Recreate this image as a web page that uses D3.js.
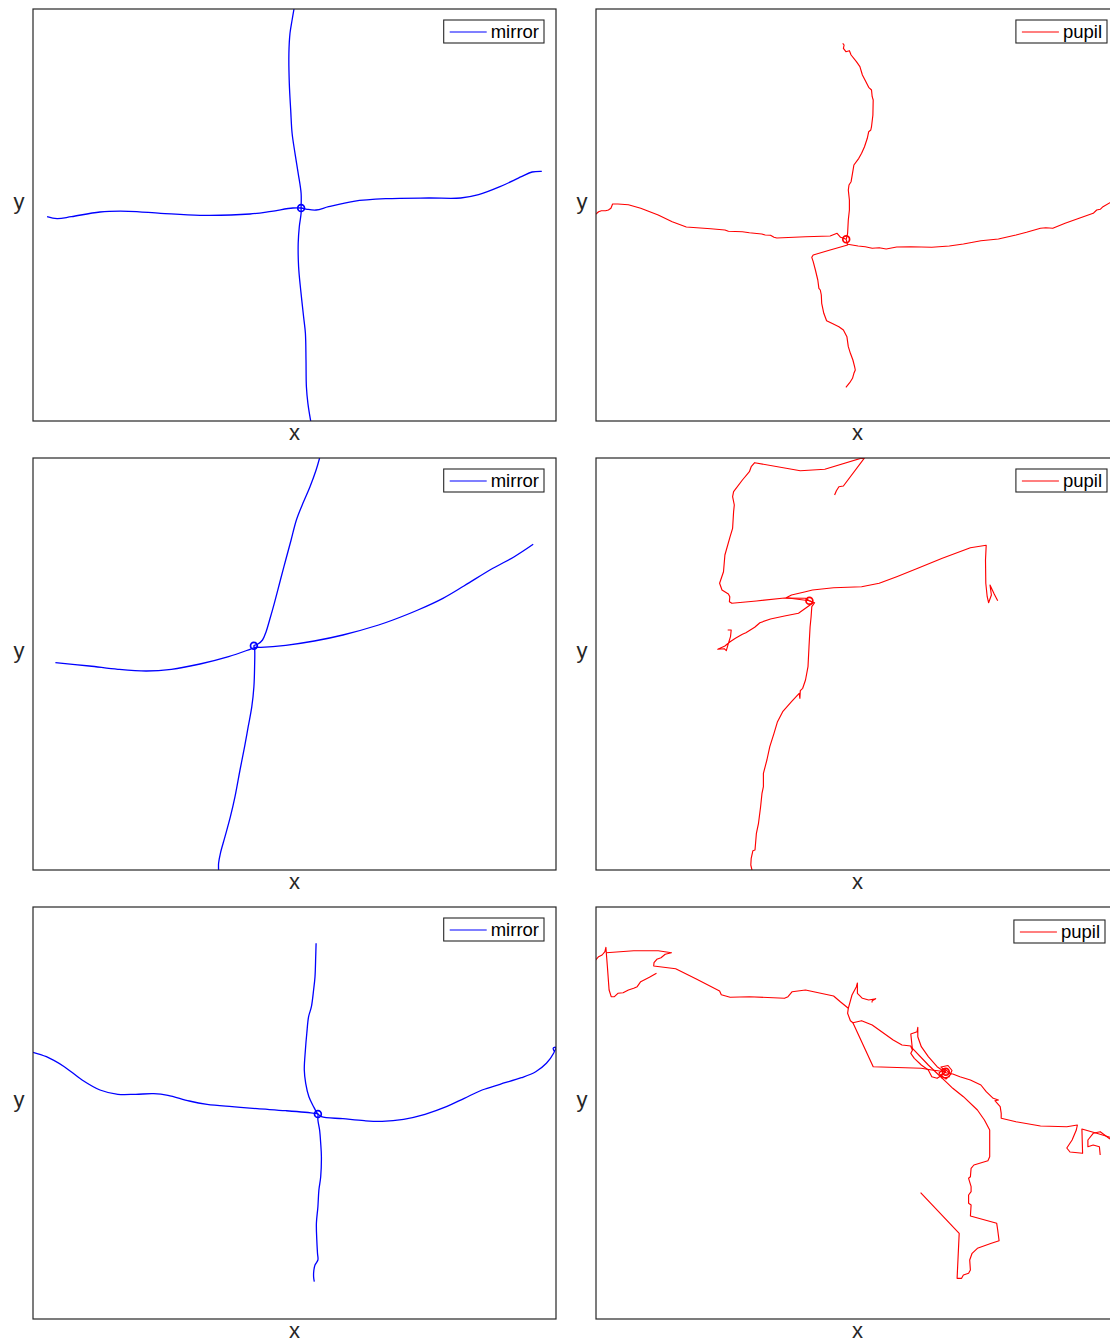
<!DOCTYPE html>
<html>
<head>
<meta charset="utf-8">
<script src="https://cdn.jsdelivr.net/npm/d3@7"></script>
<style>
  html, body { margin: 0; padding: 0; background: #fff; }
  svg { display: block; }
</style>
</head>
<body>
<svg id="chart" width="1110" height="1342"></svg>
<script>
// Gaze traces in screen units (x to the right, y downward), one panel per trial.
// Each trace is a list of arms; every arm is a list of [x, y] samples.

// ---- Trial 1 ----
const mirror1Vertical = [[261,0],[259.1,11],[257,24.3],[255.9,44.3],[256.3,74.3],[257.7,101],[259.1,124.3],[262,144.3],[265.2,164.3],[268.1,184.3],[268.1,199],[268.1,204.3],[266.3,217.7],[265.2,234.3],[265.6,257.7],[267.7,281],[270.6,307.7],[272.4,324.3],[273,351],[273.4,377.7],[274.9,394.3],[277.7,412]];
const mirror1Horizontal = [[14.1,207.7],[24.1,209.7],[38.4,207.7],[67,203],[95.6,202.3],[127.7,204.3],[167,206.3],[217,205],[238.4,202.3],[259.9,199],[268.1,199],[274.1,200.3],[283.1,201],[295.6,197.7],[320.6,192.3],[352.7,189.7],[395.6,189],[427.7,189],[445.6,185.7],[467,177.7],[488.4,167.7],[499.1,163],[508.8,162.3]];
const mirror1Start = [268.1, 199];

const pupil1Up = [[246.7,34.3],[248.1,36],[247.4,39.3],[249.9,42.7],[253.4,41.7],[255.1,46],[260.4,52.7],[263.9,57.7],[266.4,66],[269.9,72.7],[272.7,78.3],[275.5,81],[276.2,87.7],[277.2,91],[276.9,106],[275.5,117.7],[274.8,121],[272.7,122.7],[271.3,129.3],[268.5,137.7],[265.6,144.3],[262.8,149.3],[257.9,156],[256.5,164.3],[255.1,172.7],[253,176],[252.3,181],[253.4,191],[253.4,201],[252.3,211],[251.6,224.3],[250.9,227.7],[250.2,230.3]];
const pupil1Down = [[250.2,230.3],[251.6,236],[234.1,241],[217.2,246],[215.8,248.3],[217.2,252.7],[219.4,261],[221.8,271],[222.9,279.3],[224.3,281],[225.3,286],[225.7,294.3],[227.8,304.3],[230.6,311.7],[235.8,314.3],[242.9,317.7],[247.4,321],[250.9,327.7],[252.3,337.7],[254.4,344.3],[256.9,351],[258.6,357.7],[259.3,361],[257.9,364.3],[256.5,369.3],[253.7,373.7],[249.9,378.3]];
const pupil1Left = [[250.2,230.3],[244.6,228.3],[241.1,224.3],[234.1,227],[209.5,227.7],[180.8,229],[178,228.3],[174.5,226.3],[169.2,226],[165.7,225],[153.4,223.7],[146.4,222.7],[132.4,222.3],[128.9,221],[114.8,219.7],[100.8,218.7],[90.3,218],[76.2,212.7],[62.2,206],[44.7,199.3],[32.4,195.7],[21.9,195],[16.6,195],[14.9,199.3],[12.4,201],[9.6,201.7],[5.4,201.7],[2.6,202.7],[0.8,204.3],[-1,206]];
const pupil1Right = [[251.6,235.3],[262.1,237],[269.2,237.7],[276.2,239.3],[283.2,238.7],[290.2,240],[300.7,238],[314.8,237.7],[335.8,238.3],[353.3,237],[367.4,235],[384.9,231.7],[402.4,230],[420,226],[430.5,223.3],[444.5,219.3],[449.8,218.7],[456.8,219.3],[469.1,214.3],[483.1,209.3],[497.2,204.3],[500.7,201],[504.2,200.3],[507,197.7],[514,193.7],[521.7,191]];
const pupil1Start = [250.2, 230.3];

// ---- Trial 2 ----
const mirror2Vertical = [[286.6,0],[283.1,12],[277,28.7],[269.9,45.3],[263.4,62],[258.1,82],[252.7,102],[247.4,122],[241.3,145.3],[236.6,162],[233.1,173.7],[229.5,182],[224.9,186],[220.9,187.7],[221.6,190.3],[221.6,208.7],[220.9,228.7],[218.8,248.7],[215.2,268.7],[211.6,288.7],[207,312],[202,338.7],[197.4,358.7],[192,378.7],[187.4,395.3],[185.6,405.3],[185.6,412]];
const mirror2Horizontal = [[22.4,204.7],[56.3,208],[84.9,211.3],[113.4,213],[138.4,211.3],[167,206],[195.6,198.7],[217,191.3],[222.4,189.3],[227.7,189.3],[252.7,187.3],[281.3,183],[309.9,177],[345.6,167],[359.9,162],[384.9,152],[409.9,140.3],[431.3,127.7],[459.9,110.3],[481.3,98.7],[500.2,86.3]];
const mirror2Start = [220.9, 187.7];

const pupil2Top = [[238.6,37],[240.4,32.7],[242.9,28.7],[247.4,28],[269.2,-1],[228.8,11.3],[204.3,12.7],[158.7,4.7],[155.2,8.7],[153.4,13.7],[146.4,22],[137.6,33.7],[136.6,38.7],[138.3,47],[137.6,53.7],[136.6,70.3],[134.1,78.7],[128.9,97],[127.5,113.7],[123.6,125.3],[126,132],[132.4,136],[133.8,138.7],[133.4,143.7],[135.9,145.3],[160.4,143],[188.5,140],[209.5,140.3],[213.4,142.7]];
const pupil2Right = [[213.4,142.7],[190.2,139.7],[195.5,137],[209.5,133.7],[216.5,132],[237.6,129.7],[265.6,128.7],[283.2,125.3],[300.7,118.7],[321.8,110.3],[346.3,100.3],[374.4,89.7],[390.2,87.3],[389.5,102],[389.8,125.3],[391.2,138.7],[392.6,144.7],[395.4,137],[394,127],[398.2,136],[401.7,142.7]];
const pupil2Branch = [[213.4,142.7],[217.2,144.7],[209.5,150.3],[202.5,155.3],[188.5,158],[174.5,161],[163.9,164.7],[158.7,169.3],[149.9,174.7],[146.4,176.3],[139.4,180.3],[134.1,183.7],[128.9,188],[121.8,191.3],[128.2,190.7],[130.3,192.7],[132.4,185.3],[134.5,178.7],[135.2,172],[131.7,172]];
const pupil2Down = [[213.4,142.7],[218.6,144.7],[215.8,148.7],[215.1,158.7],[214.1,168.7],[213,188.7],[212,208.7],[209.5,222],[206.7,230.3],[204.3,232.7],[203.9,240.3],[203.2,235.3],[195.5,243.7],[186.7,253.7],[181.5,263.7],[178,275.3],[173.8,288.7],[170.9,302],[167.4,315.3],[167.4,328.7],[166,335.3],[164.6,348.7],[162.5,365.3],[160.4,375.3],[159,392],[156.9,392.7],[155.2,400.3],[154.8,407],[156.2,413]];
const pupil2Start = [213.4, 142.7];

// ---- Trial 3 ----
const mirror3Vertical = [[283.1,36.3],[282.7,49.7],[282,69.7],[280.6,83],[278.4,99.7],[275.6,109.7],[273.8,126.3],[272.4,143],[271.3,163],[272.7,176.3],[275.9,189.7],[280.6,199.7],[283.8,205.7],[284.9,207],[284.9,213],[286.6,223],[287.7,236.3],[288.4,249.7],[287.7,269.7],[285.9,283],[284.9,299.7],[283.4,316.3],[283.8,333],[284.5,346.3],[284.9,353],[282,358],[280.9,363],[280.6,369.7],[281.3,374.7]];
const mirror3Horizontal = [[0,145.3],[13.4,149.7],[31.3,159.7],[49.1,173],[67,183],[84.9,187.3],[102.7,187.3],[120.6,186.7],[134.9,188.3],[156.3,194],[174.1,197.3],[199.1,199.7],[224.1,201.7],[252.7,203.7],[281.3,206.3],[284.9,207],[288.4,209.7],[309.9,211.7],[331.3,213.7],[349.1,214.3],[370.6,212.3],[392,207.3],[413.4,199.7],[431.3,191.3],[449.1,183],[467,177.3],[488.4,170.7],[502.7,164.7],[513.4,156.3],[520.6,146.3],[522.7,140.3],[520.2,141.3],[521.3,144.3]];
const mirror3Start = [284.9, 207];

const pupil3Lead = [[60.5,66.3],[53.4,70.3],[44.7,74.7],[41.2,79.7],[37.7,81.3],[32.4,83],[27.1,85.7],[21.9,86.3],[18.4,89.7],[15.2,89.7],[13.1,83],[11.4,59.7],[10.3,45.7],[9.9,40.3],[8.9,44.7],[6.1,48],[2.6,49.7],[-1,53.7]];
const pupil3Main = [[10.3,45.7],[37.7,43.7],[62.2,43.7],[75.5,45.7],[69.2,47.3],[65,50.7],[60.8,52.3],[58,55.7],[57.7,59],[79.7,61.7],[100.8,72.3],[123.6,84],[125.3,87.7],[134.1,90.3],[153.4,89.7],[188.5,91.3],[192,89.7],[196.2,84.7],[209.5,83],[237.6,89],[244.6,95],[252.3,101.3],[251.6,106.3],[254.4,113.7],[256.9,115.7],[265.6,113.7],[276.2,118],[297.2,133],[306,138],[314.8,139],[316.5,143],[314.8,146.3],[318.3,151.3],[325.3,158],[332.3,163],[335.8,169.7],[341.1,171.3],[346.3,168],[349.8,164.7]];
const pupil3Spur = [[252.3,101.3],[256,88],[260.4,79.7],[261.4,76],[261.4,86.3],[266.4,91.3],[272.7,93],[279.7,91.7],[276.2,93.7],[276,95.5]];
const pupil3Cut = [[256.9,115.7],[277.2,159.7],[325.3,161.3],[335.8,163],[349.8,164.7]];
const pupil3Loop = [[316.5,143],[314.8,127],[321.1,124.7],[321.8,120.3],[321.8,129.7],[325.3,139.7],[332.3,149.7],[341.1,159.7],[349.8,165.7]];
const pupil3Knot = [[349.8,164.7],[345,160],[352,158.5],[356,163.5],[353,170],[346,171],[343,166],[348,161.5],[355,167],[350,172],[344.5,168],[349.8,164.7]];
const pupil3Right = [[349.8,165.7],[356.8,167],[363.9,169.7],[374.4,173],[384.9,178],[390.2,184.7],[397.2,191.3],[402.4,193],[398.9,193.7],[404.2,199.7],[405.2,206.3],[405.2,211.3],[420,214.7],[444.5,219],[470.8,219.7],[481.4,218],[480.3,223],[476.1,233],[470.8,241],[474,245],[486.6,246.3],[485.9,222],[500.7,226.3],[514,230.3],[524,233.5]];
const pupil3Hook = [[514,232],[504.2,224.7],[497.2,226.3],[491.9,233],[491.9,239.7],[497.2,238],[503.4,239.7],[504.2,248]];
const pupil3Down = [[314.8,139.7],[332.3,158],[342.8,168],[349.8,174.7],[356.8,181.3],[367.4,189.7],[381.4,203],[388.4,213],[393.7,223],[393.7,249.7],[391.9,253.7],[377.9,258],[375.1,261.3],[374.4,269.7],[372.6,271.3],[375.1,279.7],[375.1,284.7],[372.6,288],[372.6,296.3],[375.1,298],[374.4,309],[400.7,316.3],[401.7,323],[403.1,333.7],[395.4,336.3],[381.4,341.3],[376.1,346.3],[373.7,353],[374.4,363],[372.6,366.3],[367.4,368],[365.6,371.3],[361.1,371.3],[363.2,326.3],[324.6,285.7]];
const pupil3Start = [349.8, 164.7];

// Axis extents (screen units) and labels
const xDomain = [0, 523];
const yDomain = [0, 412];
const xLabel = "x";
const yLabel = "y";
const seriesNames = ["mirror", "pupil"];
const seriesColors = ["#0000ff", "#ff0000"];

// Panel layout: rows are trials, left column mirror, right column pupil
const colLeft = [33, 596];
const rowTop = [9, 458, 907];
const plotW = 523, plotH = 412;

const panels = [
  { row: 0, col: 0, arms: [mirror1Vertical, mirror1Horizontal], start: mirror1Start, smooth: true },
  { row: 0, col: 1, arms: [pupil1Up, pupil1Down, pupil1Left, pupil1Right], start: pupil1Start, smooth: false },
  { row: 1, col: 0, arms: [mirror2Vertical, mirror2Horizontal], start: mirror2Start, smooth: true },
  { row: 1, col: 1, arms: [pupil2Top, pupil2Right, pupil2Branch, pupil2Down], start: pupil2Start, smooth: false },
  { row: 2, col: 0, arms: [mirror3Vertical, mirror3Horizontal], start: mirror3Start, smooth: true },
  { row: 2, col: 1, arms: [pupil3Lead, pupil3Main, pupil3Spur, pupil3Cut, pupil3Loop, pupil3Knot, pupil3Right, pupil3Hook, pupil3Down], start: pupil3Start, smooth: false, legendDx: -2, legendDy: 2 }
];

const svg = d3.select("#chart");
const axisColor = "#262626";
const fontFamily = "'Liberation Sans', Arial, Helvetica, sans-serif";

panels.forEach((p, i) => {
  const left = colLeft[p.col], top = rowTop[p.row];
  const x = d3.scaleLinear().domain(xDomain).range([left, left + plotW]);
  const y = d3.scaleLinear().domain(yDomain).range([top, top + plotH]);
  const color = seriesColors[p.col];

  const clipId = "clip" + i;
  svg.append("clipPath").attr("id", clipId)
    .append("rect").attr("x", left).attr("y", top).attr("width", plotW).attr("height", plotH);

  const g = svg.append("g");
  const plot = g.append("g").attr("clip-path", `url(#${clipId})`);

  const line = d3.line()
    .x(d => x(d[0])).y(d => y(d[1]))
    .curve(p.smooth ? d3.curveCatmullRom.alpha(0.5) : d3.curveLinear);

  plot.selectAll("path.trace").data(p.arms).join("path")
    .attr("class", "trace")
    .attr("d", line)
    .attr("fill", "none")
    .attr("stroke", color)
    .attr("stroke-width", p.smooth ? 1.3 : 1.15)
    .attr("stroke-linejoin", "round");

  plot.append("circle")
    .attr("cx", x(p.start[0])).attr("cy", y(p.start[1]))
    .attr("r", 3.4)
    .attr("fill", "none")
    .attr("stroke", color)
    .attr("stroke-width", 1.7);

  // Axes box
  g.append("rect")
    .attr("x", left).attr("y", top).attr("width", plotW).attr("height", plotH)
    .attr("fill", "none").attr("stroke", axisColor).attr("stroke-width", 1.2);

  // Axis labels
  g.append("text")
    .attr("x", left + plotW / 2).attr("y", top + plotH + 19)
    .attr("text-anchor", "middle")
    .attr("font-family", fontFamily).attr("font-size", 22)
    .attr("fill", axisColor).text(xLabel);
  g.append("text")
    .attr("x", left - 14).attr("y", top + plotH / 2 - 6)
    .attr("text-anchor", "middle")
    .attr("font-family", fontFamily).attr("font-size", 22)
    .attr("fill", axisColor).text(yLabel);

  // Legend
  const lg = g.append("g");
  const lgText = lg.append("text")
    .attr("font-family", fontFamily).attr("font-size", 18.5)
    .attr("fill", "#000").text(seriesNames[p.col]);
  const tw = lgText.node().getComputedTextLength();
  const boxW = 47 + tw + 5, boxH = 23;
  const bx = left + plotW - 12 - boxW + (p.legendDx || 0);
  const by = top + 11 + (p.legendDy || 0);
  lg.insert("rect", "text")
    .attr("x", bx).attr("y", by).attr("width", boxW).attr("height", boxH)
    .attr("fill", "#fff").attr("stroke", axisColor).attr("stroke-width", 1.1);
  lg.insert("line", "text")
    .attr("x1", bx + 6).attr("x2", bx + 43)
    .attr("y1", by + 12).attr("y2", by + 12)
    .attr("stroke", color).attr("stroke-width", 1.1);
  lgText.attr("x", bx + 47).attr("y", by + 18);
});
</script>
</body>
</html>
